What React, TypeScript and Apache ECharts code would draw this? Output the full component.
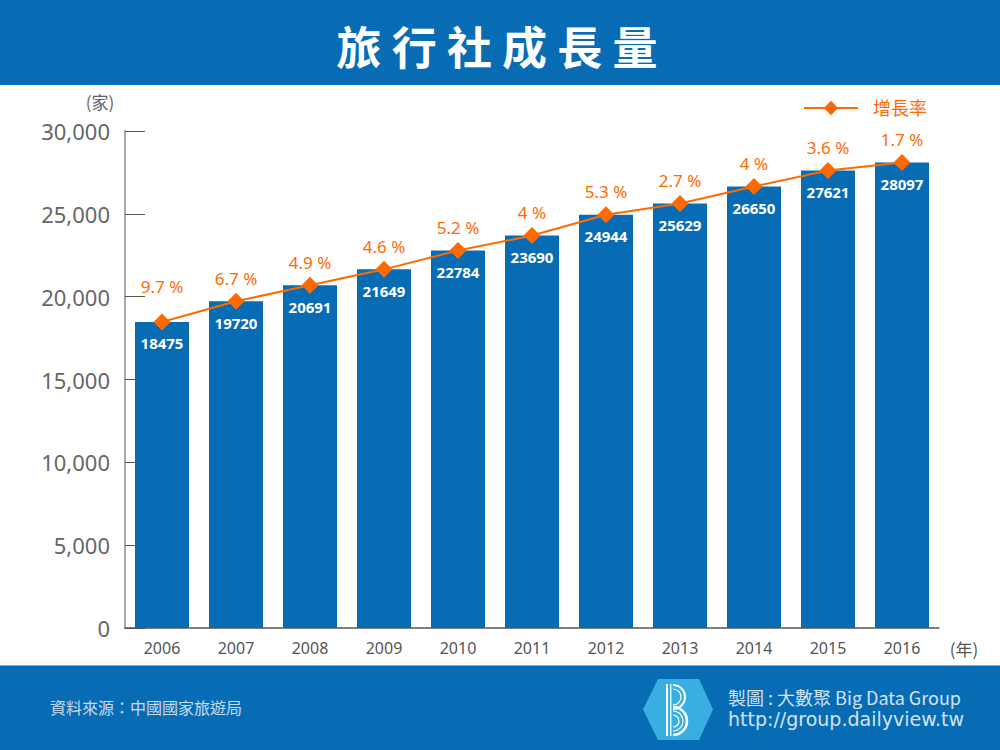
import React, { useEffect, useRef } from "react";
import * as echarts from "echarts";

const years = ["2006", "2007", "2008", "2009", "2010", "2011", "2012", "2013", "2014", "2015", "2016"];
const agencies = [18475, 19720, 20691, 21649, 22784, 23690, 24944, 25629, 26650, 27621, 28097];
const growth = ["9.7", "6.7", "4.9", "4.6", "5.2", "4", "5.3", "2.7", "4", "3.6", "1.7"];
const yTicks = [0, 5000, 10000, 15000, 20000, 25000, 30000];

const BLUE = "#086cb5";
const ORANGE = "#ff6a00";
const FONT = "'Noto Sans', 'Noto Sans CJK TC', sans-serif";

export default function App() {
  const ref = useRef<HTMLDivElement>(null);
  useEffect(() => {
    const chart = echarts.init(ref.current!, null, { renderer: "svg" });
    const lineData = agencies.map((v, i) =>
      i === 0 ? { value: v, label: { distance: 18 } } : { value: v }
    );
    chart.setOption({
      animation: false,
      backgroundColor: "#ffffff",
      textStyle: { fontFamily: FONT },
      grid: { left: 125, right: 61, top: 131, bottom: 122 },
      legend: {
        right: 68,
        top: 94,
        itemWidth: 54,
        itemHeight: 18,
        itemGap: 10,
        data: [{ name: "增長率" }],
        textStyle: { color: ORANGE, fontSize: 18, fontFamily: FONT, padding: [0, 0, 0, 10] },
      },
      xAxis: {
        type: "category",
        data: years,
        axisLine: { lineStyle: { color: "#555", width: 1.5 } },
        axisTick: { inside: true, length: 12, lineStyle: { color: "#555" } },
        axisLabel: { color: "#555", fontSize: 16, margin: 12, fontFamily: FONT },
      },
      yAxis: {
        type: "value",
        min: yTicks[0],
        max: yTicks[yTicks.length - 1],
        interval: 5000,
        splitLine: { show: false },
        axisLine: { show: true, lineStyle: { color: "#aaa", width: 2 } },
        axisTick: { show: true, inside: true, length: 20, lineStyle: { color: "#555" } },
        axisLabel: {
          color: "#666",
          fontSize: 22,
          margin: 15,
          fontFamily: FONT,
          formatter: (v: number) => v.toLocaleString("en-US"),
        },
      },
      series: [
        {
          name: "旅行社",
          type: "bar",
          data: agencies,
          barWidth: 54,
          itemStyle: { color: BLUE },
          label: {
            show: true,
            position: "insideTop",
            distance: 14,
            color: "#fff",
            fontWeight: "bold",
            fontSize: 15,
            fontFamily: FONT,
          },
        },
        {
          name: "增長率",
          type: "line",
          data: lineData,
          symbol: "diamond",
          symbolSize: 17,
          lineStyle: { color: ORANGE, width: 2 },
          itemStyle: { color: ORANGE },
          label: {
            show: true,
            position: "top",
            distance: 6,
            color: ORANGE,
            fontSize: 17,
            fontFamily: FONT,
            formatter: (p: any) => growth[p.dataIndex] + " %",
          },
          z: 5,
        },
      ],
      graphic: [
        { type: "rect", shape: { x: 0, y: 0, width: 1000, height: 85 }, style: { fill: BLUE }, silent: true },
        {
          type: "text",
          x: 497,
          y: 45,
          style: {
            text: "旅 行 社 成 長 量",
            fill: "#fff",
            font: "bold 45px 'Noto Sans CJK TC', sans-serif",
            align: "center",
            verticalAlign: "middle",
          },
        },
        { type: "rect", shape: { x: 0, y: 665, width: 1000, height: 85 }, style: { fill: BLUE }, silent: true },
        { type: "rect", shape: { x: 0, y: 665, width: 1000, height: 1 }, style: { fill: "#7fb2dc" }, silent: true },
        {
          type: "text",
          x: 100,
          y: 101,
          style: { text: "(家)", fill: "#666", font: "17px 'Noto Sans CJK TC', sans-serif", align: "center", verticalAlign: "middle" },
        },
        {
          type: "text",
          x: 964,
          y: 648,
          style: { text: "(年)", fill: "#555", font: "17px 'Noto Sans CJK TC', sans-serif", align: "center", verticalAlign: "middle" },
        },
        {
          type: "text",
          x: 50,
          y: 707,
          style: { text: "資料來源：中國國家旅遊局", fill: "#c9dbec", font: "16px 'Noto Sans CJK TC', sans-serif", verticalAlign: "middle" },
        },
        {
          type: "polygon",
          shape: { points: [[658, 679], [699, 679], [713, 709.5], [699, 740], [658, 740], [643, 709.5]] },
          style: { fill: "#38afe0" },
        },
        { type: "rect", shape: { x: 666, y: 684, width: 2, height: 52 }, style: { fill: "#fff" } },
        { type: "rect", shape: { x: 670, y: 684, width: 1.5, height: 52 }, style: { fill: "#d8f0fb" } },
        { type: "arc", shape: { cx: 673, cy: 697, r: 12, startAngle: -Math.PI / 2, endAngle: Math.PI / 2 }, style: { stroke: "#fff", lineWidth: 2, fill: "none" } },
        { type: "arc", shape: { cx: 673, cy: 697, r: 8, startAngle: -Math.PI / 2, endAngle: Math.PI / 2 }, style: { stroke: "#fff", lineWidth: 1.2, fill: "none" } },
        { type: "arc", shape: { cx: 673, cy: 721, r: 14, startAngle: -Math.PI / 2, endAngle: Math.PI / 2 }, style: { stroke: "#fff", lineWidth: 2.5, fill: "none" } },
        { type: "arc", shape: { cx: 673, cy: 721, r: 10, startAngle: -Math.PI / 2, endAngle: Math.PI / 2 }, style: { stroke: "#fff", lineWidth: 1.2, fill: "none" } },
        { type: "arc", shape: { cx: 673, cy: 721, r: 6, startAngle: -Math.PI / 2, endAngle: Math.PI / 2 }, style: { stroke: "#fff", lineWidth: 1.2, fill: "none" } },
        {
          type: "text",
          x: 728,
          y: 697,
          style: { text: "製圖 : 大數聚 Big Data Group", fill: "#d4e3f1", font: "18px 'Noto Sans CJK TC', sans-serif", verticalAlign: "middle" },
        },
        {
          type: "text",
          x: 728,
          y: 719,
          style: { text: "http://group.dailyview.tw", fill: "#d4e3f1", font: "19px 'DejaVu Sans', sans-serif", verticalAlign: "middle" },
        },
      ],
    });
    return () => chart.dispose();
  }, []);
  return <div ref={ref} style={{ position: "fixed", left: 0, top: 0, width: 1000, height: 750 }} />;
}
